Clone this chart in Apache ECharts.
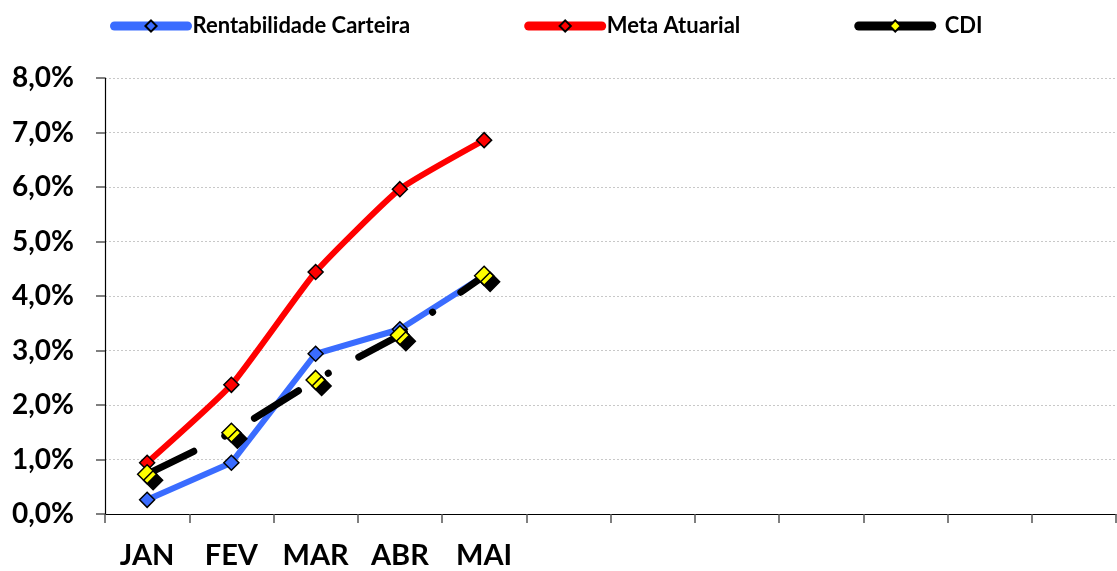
<!DOCTYPE html>
<html><head><meta charset="utf-8">
<script src="https://cdn.jsdelivr.net/npm/echarts@6/dist/echarts.min.js"></script>
<style>html,body{margin:0;padding:0;background:#fff}#c{width:1117px;height:571px}</style>
</head><body><div id="c"></div>
<script>
const categories = ['JAN','FEV','MAR','ABR','MAI','JUN','JUL','AGO','SET','OUT','NOV','DEZ'];
const xLabels = ['JAN','FEV','MAR','ABR','MAI','','','','','','',''];
const rentabilidade = [0.26, 0.94, 2.94, 3.39, 4.37];
const meta = [0.94, 2.37, 4.44, 5.96, 6.86];
const cdi = [0.73, 1.49, 2.46, 3.28, 4.37];
const yTicks = [0,1,2,3,4,5,6,7,8];

const FONT = 'Lato';
const chart = echarts.init(document.getElementById('c'));
chart.setOption({
  animation: false,
  backgroundColor: '#fff',
  legend: {
    top: 10, left: 105, itemGap: 114, itemWidth: 73, itemHeight: 14,
    textStyle: {fontFamily: FONT, fontWeight: 'bold', fontSize: 22, color: '#000'},
    data: [
      {name: 'Rentabilidade Carteira', lineStyle: {width: 9, cap: 'round'}},
      {name: 'Meta Atuarial', lineStyle: {width: 9, cap: 'round'}},
      {name: 'CDI', lineStyle: {width: 9, cap: 'round', type: 'solid'},
       itemStyle: {shadowOffsetX: 0, shadowOffsetY: 0, shadowColor: 'transparent'},
       textStyle: {padding: [0, 0, 0, 8]}}
    ]
  },
  grid: {left: 105, right: 1, top: 78, bottom: 57, containLabel: false},
  xAxis: {
    type: 'category', data: categories, boundaryGap: true,
    axisLine: {lineStyle: {color: '#000', width: 1}},
    axisTick: {show: true, interval: 0, length: 9, lineStyle: {color: '#555', width: 1.5}},
    axisLabel: {
      interval: 0,
      fontFamily: FONT, fontWeight: 'bold', fontSize: 29, color: '#000', margin: 27,
      formatter: (v, i) => xLabels[i]
    },
    splitLine: {show: false}
  },
  yAxis: {
    type: 'value', min: 0, max: 8, interval: 1,
    axisLine: {show: true, lineStyle: {color: '#000', width: 1.2}},
    axisTick: {show: true, length: 9, lineStyle: {color: '#555', width: 1.5}},
    axisLabel: {
      fontFamily: FONT, fontWeight: 'bold', fontSize: 28, color: '#000', margin: 31,
      formatter: v => yTicks.includes(v) ? v.toFixed(1).replace('.', ',') + '%' : ''
    },
    splitLine: {show: true, lineStyle: {color: '#c8c8c8', type: [2,2], width: 1}}
  },
  series: [
    {
      name: 'Rentabilidade Carteira', type: 'line', data: rentabilidade,
      symbol: 'diamond', symbolSize: 15,
      lineStyle: {color: '#3a6cff', width: 6},
      itemStyle: {color: '#3a6cff', borderColor: '#000', borderWidth: 1.5},
      z: 2
    },
    {
      name: 'Meta Atuarial', type: 'line', data: meta,
      symbol: 'diamond', symbolSize: 15, smooth: 0.15,
      lineStyle: {color: '#ff0000', width: 6},
      itemStyle: {color: '#ff0000', borderColor: '#000', borderWidth: 1.5},
      z: 3
    },
    {
      name: 'CDI', type: 'line', data: cdi,
      symbol: 'diamond', symbolSize: 19,
      lineStyle: {color: '#000', width: 7, type: [52, 34.5, 0.1, 34.5], cap: 'round'},
      itemStyle: {color: '#ffff00', borderColor: '#000', borderWidth: 1.5,
        shadowColor: '#000', shadowOffsetX: 6, shadowOffsetY: 6, shadowBlur: 0},
      z: 4
    }
  ]
});
</script></body></html>
